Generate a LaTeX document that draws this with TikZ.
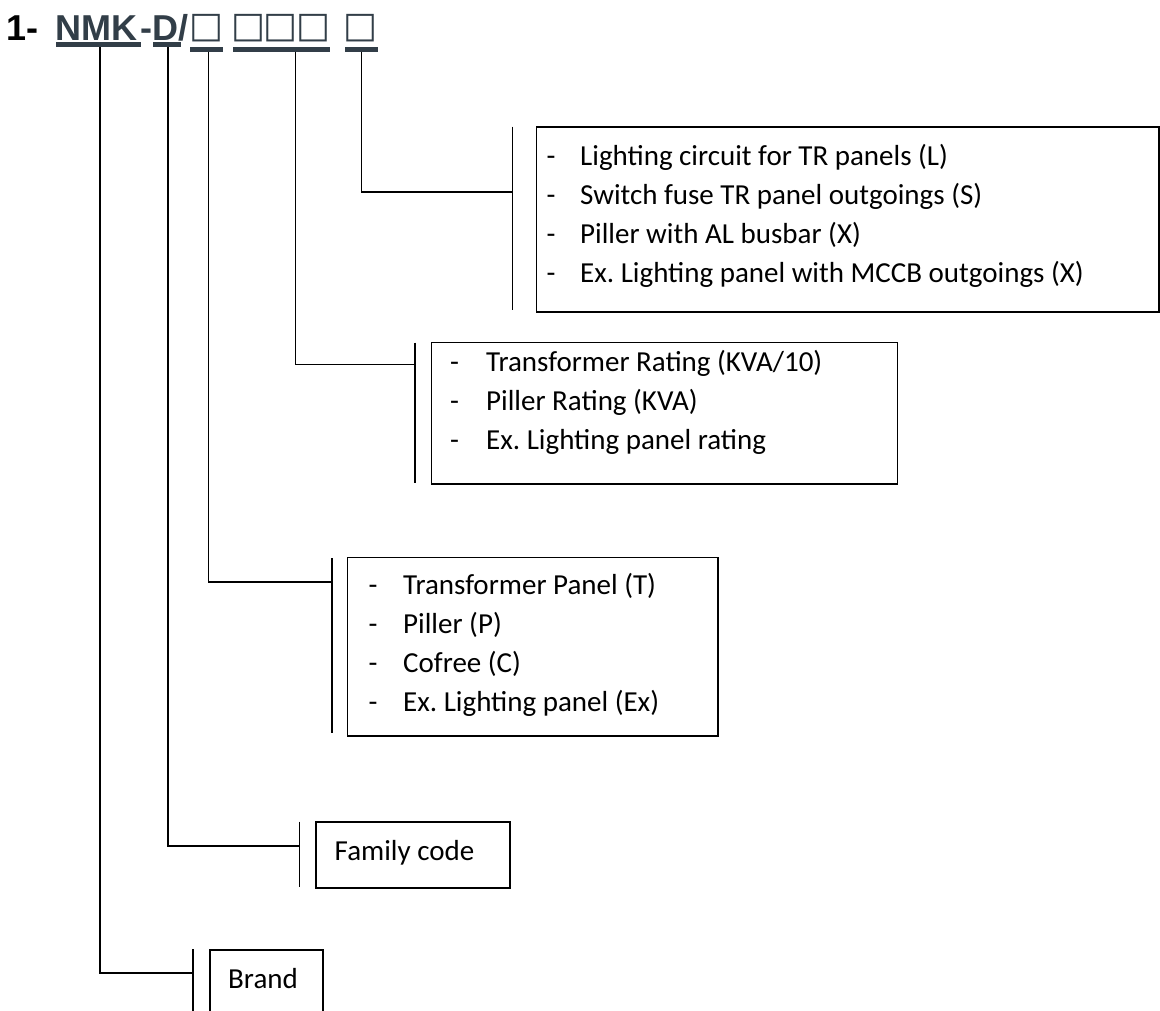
\documentclass[tikz,border=0pt]{standalone}
\usepackage{fontspec}
\newfontfamily\arialfont{Liberation Sans}
\newfontfamily\calfont{Carlito}
\newfontfamily\symfont{DejaVu Sans}
\definecolor{slate}{RGB}{50,62,72}
\tikzset{
  titletxt/.style={inner sep=0pt, anchor=base west, font=\arialfont\bfseries\fontsize{36}{40}\selectfont},
  sqtxt/.style={inner sep=0pt, anchor=center, text=slate, font=\symfont\fontsize{36}{40}\selectfont},
  uline/.style={fill=slate, draw=none, inner sep=0pt, minimum height=5pt},
  box/.style={draw=black, line width=1.7pt, inner sep=0pt, anchor=north west, rectangle},
  conn/.style={draw=black, line width=1.6pt, line join=miter},
  bar/.style={draw=black, line width=1.6pt},
  item/.style={inner sep=0pt, anchor=base west, font=\calfont\fontsize{29}{39}\selectfont},
}
\frenchspacing
\begin{document}
\begin{tikzpicture}[x=1pt,y=-1pt]
\useasboundingbox (0,0) rectangle (1160,1010);
% title
\node[titletxt] (t1) at (6,40) {1-};
\node[titletxt, text=slate] (tnmk) at (55.7,40) {NMK};
\node[titletxt, text=slate] (td) at (140.2,40) {-D/};
\node[sqtxt] (s1) at (206.5,28) {□};
\node[sqtxt] (s2) at (248.5,28) {□};
\node[sqtxt] (s3) at (280.5,28) {□};
\node[sqtxt] (s4) at (313.5,28) {□};
\node[sqtxt] (s5) at (360.5,28) {□};
% underlines
\node[uline, minimum width=85pt] (u1) at (98.5,44.5) {};
\node[uline, minimum width=28pt] (u2) at (167,44.5) {};
\node[uline, minimum width=33pt] (u3) at (206.5,49) {};
\node[uline, minimum width=97pt] (u4) at (281.5,49) {};
\node[uline, minimum width=33pt] (u5) at (361.5,49) {};
% boxes
\node[box, minimum width=622.3pt, minimum height=185pt] (b1) at (535.7,126) {};
\node[box, minimum width=466pt, minimum height=141.3pt] (b2) at (430.7,341.7) {};
\node[box, minimum width=370.3pt, minimum height=178.3pt] (b3) at (346.7,556.7) {};
\node[box, minimum width=194.3pt, minimum height=66.3pt] (b4) at (315,821) {};
\node[box, minimum width=113.3pt, minimum height=85pt] (b5) at (209,949.3) {};
% junctions on bars
\coordinate (j1) at (512.3,191.7);
\coordinate (j2) at (415,364.3);
\coordinate (j3) at (331.7,581.7);
\coordinate (j4) at (299.3,846);
\coordinate (j5) at (192.7,972.7);
% bars
\draw[bar] (512.3,126.7) -- (512.3,310);
\draw[bar] (415,342.7) -- (415,482.7);
\draw[bar] (331.7,558) -- (331.7,733);
\draw[bar] (299.3,821.7) -- (299.3,886.7);
\draw[bar] (192.7,949.3) -- (192.7,1020);
% connectors
\draw[conn] (u5.south) |- (j1);
\draw[conn] ([xshift=14pt]u4.south) |- (j2);
\draw[conn] ([xshift=2pt]u3.south) |- (j3);
\draw[conn] ([xshift=1pt]u2.south) |- (j4);
\draw[conn] ([xshift=1.5pt]u1.south) |- (j5);
% box 1 texts
\node[item] (d1a) at (546.5,165) {-};
\node[item] (d1b) at (546.5,204) {-};
\node[item] (d1c) at (546.5,243) {-};
\node[item] (d1d) at (546.5,282) {-};
\node[item] (i1a) at (580,165) {Lighting circuit for TR panels (L)};
\node[item] (i1b) at (580,204) {Switch fuse TR panel outgoings (S)};
\node[item] (i1c) at (580,243) {Piller with AL busbar (X)};
\node[item] (i1d) at (580,282) {Ex. Lighting panel with MCCB outgoings (X)};
% box 2 texts
\node[item] (d2a) at (450,371) {-};
\node[item] (d2b) at (450,410) {-};
\node[item] (d2c) at (450,449) {-};
\node[item] (i2a) at (486,371) {Transformer Rating (KVA/10)};
\node[item] (i2b) at (486,410) {Piller Rating (KVA)};
\node[item] (i2c) at (486,449) {Ex. Lighting panel rating};
% box 3 texts
\node[item] (d3a) at (368.5,594) {-};
\node[item] (d3b) at (368.5,633) {-};
\node[item] (d3c) at (368.5,672) {-};
\node[item] (d3d) at (368.5,711) {-};
\node[item] (i3a) at (403,594) {Transformer Panel (T)};
\node[item] (i3b) at (403,633) {Piller (P)};
\node[item] (i3c) at (403,672) {Cofree (C)};
\node[item] (i3d) at (403,711) {Ex. Lighting panel (Ex)};
% box 4, 5 texts
\node[item] (i4) at (334.5,860) {Family code};
\node[item] (i5) at (228,988) {Brand};
\end{tikzpicture}
\end{document}
